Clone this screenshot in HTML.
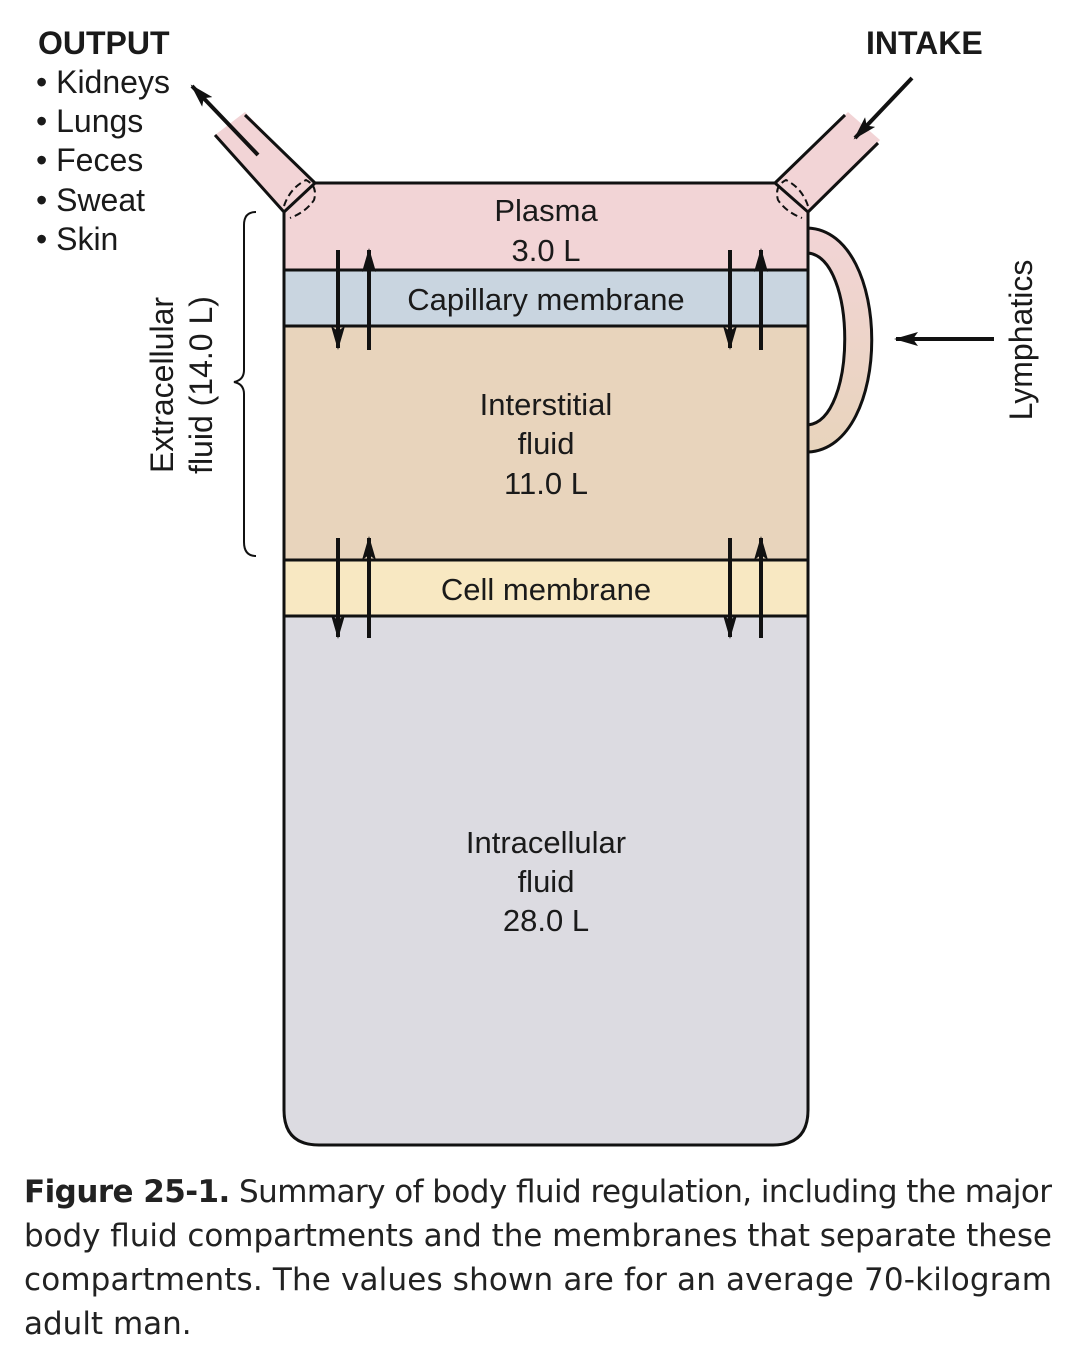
<!DOCTYPE html>
<html><head><meta charset="utf-8"><style>html,body{margin:0;padding:0;background:#fff}svg{display:block}</style></head>
<body>
<svg width="1076" height="1350" viewBox="0 0 1076 1350" xmlns="http://www.w3.org/2000/svg" font-family="Liberation Sans, sans-serif">
<defs>
<linearGradient id="hg" x1="0" y1="0" x2="0" y2="1"><stop offset="0" stop-color="#f2d4d6"/><stop offset="1" stop-color="#e8d4bc"/></linearGradient>
<marker id="ah" viewBox="0 0 24 14" refX="22" refY="7" markerWidth="24" markerHeight="14" markerUnits="userSpaceOnUse" orient="auto"><path d="M0,0 L24,7 L0,14 L5,7 z" fill="#111"/></marker>
</defs>
<!-- spouts -->
<polygon points="284,212 315,183 245,112 215,135" fill="#f2d4d6"/>
<line x1="284" y1="212" x2="215" y2="135" stroke="#111" stroke-width="3"/>
<line x1="315" y1="183" x2="245" y2="115" stroke="#111" stroke-width="3"/>
<polygon points="775,183 808,212 880,140 848,112" fill="#f2d4d6"/>
<line x1="775" y1="183" x2="845" y2="115" stroke="#111" stroke-width="3"/>
<line x1="808" y1="212" x2="878" y2="143" stroke="#111" stroke-width="3"/>
<!-- handle -->
<path d="M808,228 C893,232 893,448 808,452 L808,425 C857,420 857,258 808,253 Z" fill="url(#hg)" stroke="#111" stroke-width="3"/>
<!-- jar bands -->
<path d="M284,212 L315,183 L775,183 L808,212 L808,270 L284,270 Z" fill="#f2d4d6"/>
<rect x="284" y="270" width="524" height="56" fill="#c9d5e0"/>
<rect x="284" y="326" width="524" height="234" fill="#e8d4bc"/>
<rect x="284" y="560" width="524" height="56" fill="#f8e8c2"/>
<path d="M284,616 L808,616 L808,1110 Q808,1145 773,1145 L319,1145 Q284,1145 284,1110 Z" fill="#dcdbe1"/>
<path d="M284,212 L315,183 L775,183 L808,212 L808,1110 Q808,1145 773,1145 L319,1145 Q284,1145 284,1110 Z" fill="none" stroke="#111" stroke-width="3"/>
<g stroke="#111" stroke-width="3">
<line x1="284" y1="270" x2="808" y2="270"/><line x1="284" y1="326" x2="808" y2="326"/>
<line x1="284" y1="560" x2="808" y2="560"/><line x1="284" y1="616" x2="808" y2="616"/>
</g>
<!-- dashed joints -->
<path d="M284,206 Q290,188 306,180 Q318,186 314,200 Q306,212 290,218" fill="none" stroke="#111" stroke-width="2" stroke-dasharray="7,4"/>
<path d="M808,206 Q802,188 786,180 Q774,186 778,200 Q786,212 802,218" fill="none" stroke="#111" stroke-width="2" stroke-dasharray="7,4"/>
<!-- membrane arrows -->
<g stroke="#111" stroke-width="4" marker-end="url(#ah)">
<line x1="338" y1="250" x2="338" y2="348"/><line x1="369" y1="350" x2="369" y2="250"/>
<line x1="730" y1="250" x2="730" y2="348"/><line x1="761" y1="350" x2="761" y2="250"/>
<line x1="338" y1="538" x2="338" y2="637"/><line x1="369" y1="638" x2="369" y2="538"/>
<line x1="730" y1="538" x2="730" y2="637"/><line x1="761" y1="638" x2="761" y2="538"/>
<line x1="258" y1="155" x2="192" y2="86"/>
<line x1="912" y1="78" x2="855" y2="138"/>
<line x1="994" y1="339" x2="896" y2="339"/>
</g>
<!-- brace -->
<path d="M256,212 Q244,212 244,225 L244,370 Q244,380 234,382 Q244,384 244,394 L244,542 Q244,556 256,556" fill="none" stroke="#111" stroke-width="2"/>
<!-- texts -->
<g fill="#1a1a1a" font-size="31" text-anchor="middle">
<text x="546" y="221">Plasma</text><text x="546" y="261">3.0 L</text>
<text x="546" y="310">Capillary membrane</text>
<text x="546" y="415">Interstitial</text><text x="546" y="454">fluid</text><text x="546" y="494">11.0 L</text>
<text x="546" y="600">Cell membrane</text>
<text x="546" y="853">Intracellular</text><text x="546" y="892">fluid</text><text x="546" y="931">28.0 L</text>
</g>
<g fill="#1a1a1a" font-size="32">
<text x="38" y="54" font-weight="bold">OUTPUT</text>
<text x="36" y="93">• Kidneys</text><text x="36" y="132">• Lungs</text><text x="36" y="171">• Feces</text><text x="36" y="211">• Sweat</text><text x="36" y="250">• Skin</text>
<text x="866" y="54" font-weight="bold">INTAKE</text>
<text transform="translate(1032,340) rotate(-90)" text-anchor="middle">Lymphatics</text>
<text transform="translate(173,385) rotate(-90)" text-anchor="middle">Extracellular</text>
<text transform="translate(212,385) rotate(-90)" text-anchor="middle">fluid (14.0 L)</text>
</g>
<g fill="#222" font-size="31" font-family="DejaVu Sans, Liberation Sans, sans-serif">
<text x="24" y="1202" textLength="1028" lengthAdjust="spacing"><tspan font-weight="bold">Figure 25-1.</tspan>  Summary of body fluid regulation, including the major</text>
<text x="24" y="1246" textLength="1028" lengthAdjust="spacing">body fluid compartments and the membranes that separate these</text>
<text x="24" y="1290" textLength="1028" lengthAdjust="spacing">compartments. The values shown are for an average 70-kilogram</text>
<text x="24" y="1334">adult man.</text>
</g>
</svg>
</body></html>
